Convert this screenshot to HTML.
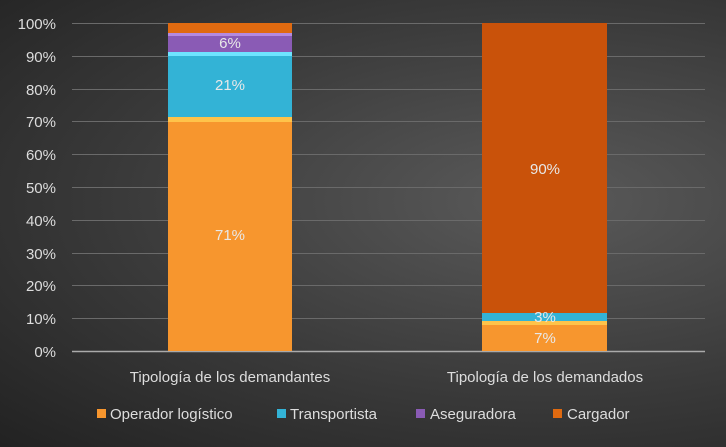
<!DOCTYPE html>
<html><head><style>
body{margin:0;width:726px;height:447px;overflow:hidden;background:radial-gradient(ellipse at 75% 45%,#5a5a5a 0%,#3a3a3a 55%,#222 100%);font-family:"Liberation Sans",sans-serif;}
</style></head><body>
<svg width="726" height="447" xmlns="http://www.w3.org/2000/svg" style="position:absolute;left:0;top:0">
<g stroke="#6a6a6a" stroke-width="1">
<line x1="72" x2="705" y1="23.5" y2="23.5"/><line x1="72" x2="705" y1="56.5" y2="56.5"/>
<line x1="72" x2="705" y1="89.5" y2="89.5"/><line x1="72" x2="705" y1="121.5" y2="121.5"/>
<line x1="72" x2="705" y1="154.5" y2="154.5"/><line x1="72" x2="705" y1="187.5" y2="187.5"/>
<line x1="72" x2="705" y1="220.5" y2="220.5"/><line x1="72" x2="705" y1="253.5" y2="253.5"/>
<line x1="72" x2="705" y1="285.5" y2="285.5"/><line x1="72" x2="705" y1="318.5" y2="318.5"/>
</g>
<line x1="72" x2="705" y1="351.5" y2="351.5" stroke="#aaa" stroke-width="1.5"/>
<g fill="#ddd" font-size="15" text-anchor="end">
<text x="56" y="29">100%</text><text x="56" y="62">90%</text><text x="56" y="95">80%</text>
<text x="56" y="127">70%</text><text x="56" y="160">60%</text><text x="56" y="193">50%</text>
<text x="56" y="226">40%</text><text x="56" y="259">30%</text><text x="56" y="291">20%</text>
<text x="56" y="324">10%</text><text x="56" y="357">0%</text>
</g>
<!-- left bar -->
<rect x="168" y="117" width="124" height="234" fill="#f7962e"/><rect x="168" y="117" width="124" height="5" fill="#ffc34a"/>
<rect x="168" y="52" width="124" height="65" fill="#33b3d6"/><rect x="168" y="52" width="124" height="4" fill="#6ee3ff"/>
<rect x="168" y="33" width="124" height="19" fill="#8a5bb5"/><rect x="168" y="33" width="124" height="3" fill="#b48ae0"/>
<rect x="168" y="23" width="124" height="10" fill="#e06a10"/>
<!-- right bar -->
<rect x="482" y="321" width="125" height="30" fill="#f7962e"/><rect x="482" y="321" width="125" height="4" fill="#ffc34a"/>
<rect x="482" y="313" width="125" height="8" fill="#33b3d6"/>
<rect x="482" y="23" width="125" height="290" fill="#c9520a"/>
<g fill="#e8e8e8" font-size="15" text-anchor="middle">
<text x="230" y="240">71%</text><text x="230" y="90">21%</text><text x="230" y="48">6%</text>
<text x="545" y="174">90%</text><text x="545" y="322">3%</text><text x="545" y="343">7%</text>
</g>
<g fill="#ddd" font-size="15" text-anchor="middle">
<text x="230" y="382">Tipología de los demandantes</text>
<text x="545" y="382">Tipología de los demandados</text>
</g>
<g font-size="15" fill="#ddd">
<rect x="97" y="409" width="9" height="9" fill="#f7962e"/><text x="110" y="419">Operador logístico</text>
<rect x="277" y="409" width="9" height="9" fill="#33b3d6"/><text x="290" y="419">Transportista</text>
<rect x="416" y="409" width="9" height="9" fill="#8a5bb5"/><text x="430" y="419">Aseguradora</text>
<rect x="553" y="409" width="9" height="9" fill="#e06a10"/><text x="567" y="419">Cargador</text>
</g>
</svg>
</body></html>
